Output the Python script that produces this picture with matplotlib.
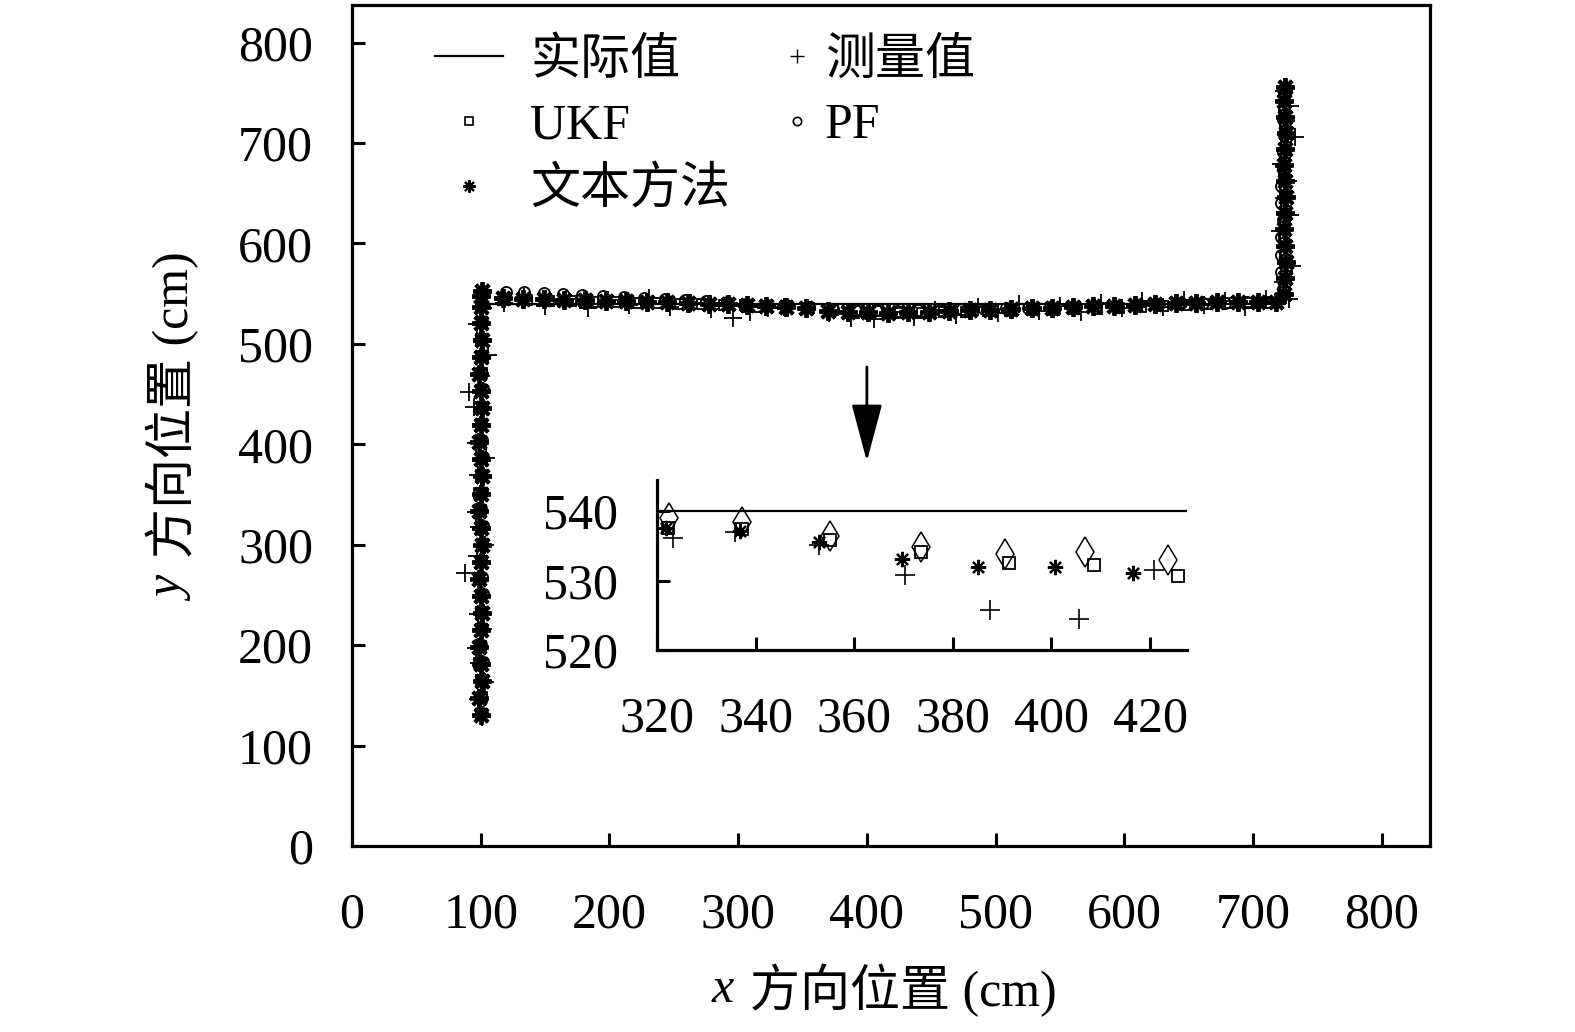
import matplotlib
matplotlib.use("Agg")
import matplotlib.pyplot as plt
from matplotlib.lines import Line2D

plt.rcParams['font.family'] = ['Liberation Serif', 'Noto Sans CJK SC', 'DejaVu Sans']

# ---------------- data ----------------
true_x = [100, 100, 725, 725]
true_y = [130, 540, 540, 758]

# 测量值 (measured)
meas_x = [101, 98, 103, 99, 96, 102, 98, 101, 88, 97, 103, 99, 96, 101, 98, 104, 96, 100, 95, 91, 100, 106, 101, 97, 102,
          118, 134, 150, 166, 183, 199, 215, 231, 247, 263, 279, 296, 309, 323.3, 335.8, 352.9, 370.4, 387.5, 405.5, 420.9,
          437, 453, 469, 486, 502, 518, 534, 550, 566, 582, 598, 614, 630, 646, 662, 678, 694, 710,
          728, 723, 730, 726, 721, 729, 724, 727, 722, 733, 726, 729, 724]
meas_y = [128, 146, 163, 182, 197, 216, 231, 250, 272, 289, 300, 318, 333, 352, 369, 386, 401, 420, 437, 452, 468, 489, 505, 520, 536,
          541, 547, 538, 545, 536, 544, 539, 546, 537, 541, 535, 526, 532, 536.2, 537.0, 535.2, 530.8, 525.8, 524.4, 531.5,
          527, 534, 529, 537, 531, 540, 533, 538, 532, 541, 536, 543, 537, 544, 539, 543, 537, 545,
          545, 562, 578, 596, 612, 628, 645, 662, 679, 706, 722, 737, 752]

# UKF
ukf_x = [100, 101, 100, 99, 100, 101, 100, 100, 99, 100, 101, 100, 100, 99, 100, 101, 100, 100, 99, 100, 101, 100, 100, 101, 100,
         119, 136, 153, 170, 187, 204, 221, 238, 255, 272, 289, 305, 322.2, 337.3, 355.1, 373.5, 391.4, 408.6, 425.6,
         443, 460, 477, 494, 511, 528, 545, 562, 579, 596, 613, 630, 647, 664, 681, 698, 714,
         725, 726, 725, 724, 725, 726, 725, 724, 725, 726, 725, 724, 725]
ukf_y = [131, 148, 165, 182, 199, 216, 233, 250, 267, 284, 301, 318, 335, 352, 369, 386, 403, 420, 437, 454, 471, 488, 505, 522, 538,
         544, 544, 543, 543, 542, 542, 541, 541, 540, 540, 539, 538.5, 537.6, 537.4, 535.9, 534.1, 532.5, 532.3, 530.7,
         531, 531.5, 532, 532.5, 533, 533.5, 534, 534.5, 535, 536, 537, 538, 539, 540, 540.5, 541, 541,
         552, 568, 584, 600, 616, 632, 648, 664, 680, 696, 712, 728, 744]

# PF
pf_x = [101, 100, 101, 102, 100, 101, 100, 102, 101, 100, 101, 102, 100, 101, 100, 102, 101, 100, 101, 102, 100, 101, 100, 101, 101,
        120, 134, 149, 164, 179, 195, 211, 227, 243, 259, 275, 291, 306, 322.4, 337.3, 355.1, 373.5, 390.6, 406.8, 423.6,
        440, 457, 474, 491, 508, 525, 542, 559, 576, 593, 610, 627, 644, 661, 678, 695, 712,
        723, 722, 722, 722, 723, 722, 722, 723, 723, 724, 724, 724]
pf_y = [132, 149, 166, 183, 200, 217, 234, 251, 268, 285, 302, 319, 336, 353, 370, 387, 404, 421, 438, 455, 472, 489, 506, 523, 540,
        552, 552, 551, 550, 549, 548, 547, 546, 545, 544, 543, 542, 540, 539.0, 538.5, 536.4, 534.9, 533.9, 534.1, 533.0,
        533.5, 534, 534.5, 535, 535.5, 536, 536.5, 537, 537.5, 538, 539, 540, 540.5, 541, 541, 541.5, 541.5,
        555, 572, 589, 606, 623, 640, 657, 674, 691, 708, 725, 742]

# 文本方法 (proposed method)
prop_x = [100, 99, 101, 100, 99, 100, 101, 100, 99, 100, 101, 100, 99, 100, 101, 100, 99, 100, 101, 100, 99, 100, 101, 100, 100, 100, 101,
          117, 133, 149, 165, 181, 197, 213, 229, 245, 261, 277, 292, 307, 321.9, 336.9, 352.9, 369.6, 385.1, 400.7, 416.5,
          432, 448, 464, 480, 496, 512, 528, 544, 560, 576, 592, 608, 624, 640, 656, 672, 688, 704, 718,
          724, 725, 726, 725, 724, 725, 726, 725, 724, 725, 726, 725, 724, 725]
prop_y = [130, 147, 164, 181, 198, 215, 232, 249, 266, 283, 300, 317, 334, 351, 368, 385, 402, 419, 436, 453, 470, 487, 504, 521, 537, 548, 553,
          546, 545, 545, 544, 544, 543, 543, 542, 542, 541, 540, 540, 539, 537.6, 537.1, 535.5, 533.1, 531.9, 531.9, 531.1,
          531.5, 532, 533, 533.5, 534, 535, 535.5, 536, 537, 537.5, 538, 539, 540, 541, 541, 542, 542, 542, 542,
          550, 566, 582, 598, 614, 630, 646, 662, 678, 694, 710, 726, 742, 756]

main_ticks = [0, 100, 200, 300, 400, 500, 600, 700, 800]
inset_xticks = [320, 340, 360, 380, 400, 420]
inset_yticks = [520, 530, 540]

# ---------------- figure ----------------
W, H = 1575, 1032
fig = plt.figure(figsize=(W / 100, H / 100), dpi=100)
FS = 36

def fx(px):
    return px / W

def fy(py):
    return 1 - py / H

ax = fig.add_axes([fx(352), fy(846), fx(1430) - fx(352), fy(5) - fy(846)])
ax.set_xlim(0, 837.5)
ax.set_ylim(0, 837.5)

star = (8, 2, 0)
ax.plot(true_x, true_y, color='black', lw=1.6, zorder=2)
ax.plot(meas_x, meas_y, ls='none', marker='+', ms=13, mew=1.3, color='black', zorder=3)
ax.plot(ukf_x, ukf_y, ls='none', marker='s', ms=7, mew=1.3, mfc='none', mec='black', zorder=3)
ax.plot(pf_x, pf_y, ls='none', marker='o', ms=8, mew=1.3, mfc='none', mec='black', zorder=3)
ax.plot(prop_x, prop_y, ls='none', marker=star, ms=13.5, mew=2.8, color='black', zorder=4)

ax.set_xticks(main_ticks)
ax.set_yticks(main_ticks)
ax.tick_params(direction='in', length=9.5, width=2.2, labelsize=FS, pad=33)
ax.tick_params(axis='y', pad=28)
for s in ax.spines.values():
    s.set_linewidth(2.3)

# arrow
ax.annotate('', xy=(400, 383), xytext=(400, 477),
            arrowprops=dict(arrowstyle='-|>,head_length=1.2,head_width=0.32', lw=2.0,
                            color='black', mutation_scale=30, shrinkA=0, shrinkB=0))

# axis labels (italic variable + text)
fig.text(fx(712), fy(990), 'x', fontsize=FS, style='italic', ha='left', va='center')
fig.text(fx(750), fy(990), '方向位置 (cm)', fontsize=FS, ha='left', va='center')
fig.text(fx(172), fy(590), 'y', fontsize=FS, style='italic', rotation=90, ha='center', va='center')
fig.text(fx(172), fy(405), '方向位置 (cm)', fontsize=FS, rotation=90, ha='center', va='center')

# legends
h_true = Line2D([], [], color='black', lw=1.6)
h_meas = Line2D([], [], ls='none', marker='+', ms=10, mew=1.0, color='black')
h_ukf = Line2D([], [], ls='none', marker='s', ms=6, mew=1.2, mfc='none', mec='black')
h_pf = Line2D([], [], ls='none', marker='o', ms=6, mew=1.2, mfc='none', mec='black')
h_prop = Line2D([], [], ls='none', marker=star, ms=9, mew=1.5, color='black')

leg1 = fig.legend([h_true, h_ukf, h_prop], ['实际值', 'UKF', '文本方法'],
                  loc='upper left', bbox_to_anchor=(fx(435), fy(38)), frameon=False,
                  fontsize=FS, handlelength=1.36, handletextpad=0.54, labelspacing=0.36,
                  borderpad=0, borderaxespad=0)
leg2 = fig.legend([h_meas, h_pf], ['测量值', 'PF'],
                  loc='upper left', bbox_to_anchor=(fx(782), fy(38)), frameon=False,
                  fontsize=FS, handlelength=0.6, handletextpad=0.26, labelspacing=0.36,
                  borderpad=0, borderaxespad=0)

# inset
axi = fig.add_axes([fx(657), fy(650), fx(1187) - fx(657), fy(480) - fy(650)])
axi.set_facecolor('none')
axi.set_xlim(320, 427.5)
axi.set_ylim(520, 544.5)
axi.plot(true_x, true_y, color='black', lw=1.6, zorder=2)
axi.plot(meas_x, meas_y, ls='none', marker='+', ms=14, mew=1.2, color='black', zorder=3)
axi.plot(ukf_x, ukf_y, ls='none', marker='s', ms=9, mew=1.3, mfc='none', mec='black', zorder=3)
axi.plot(pf_x, pf_y, ls='none', marker='d', ms=15, mew=1.1, mfc='none', mec='black', zorder=3)
axi.plot(prop_x, prop_y, ls='none', marker=star, ms=11, mew=1.6, color='black', zorder=4)
axi.set_xticks(inset_xticks)
axi.set_yticks(inset_yticks)
axi.spines['top'].set_visible(False)
axi.spines['right'].set_visible(False)
for s in ('left', 'bottom'):
    axi.spines[s].set_linewidth(2.3)
axi.tick_params(direction='in', length=9.5, width=2.2, labelsize=FS)
axi.tick_params(axis='x', pad=33)
axi.tick_params(axis='y', pad=28)

fig.savefig('out.png', dpi=100)
